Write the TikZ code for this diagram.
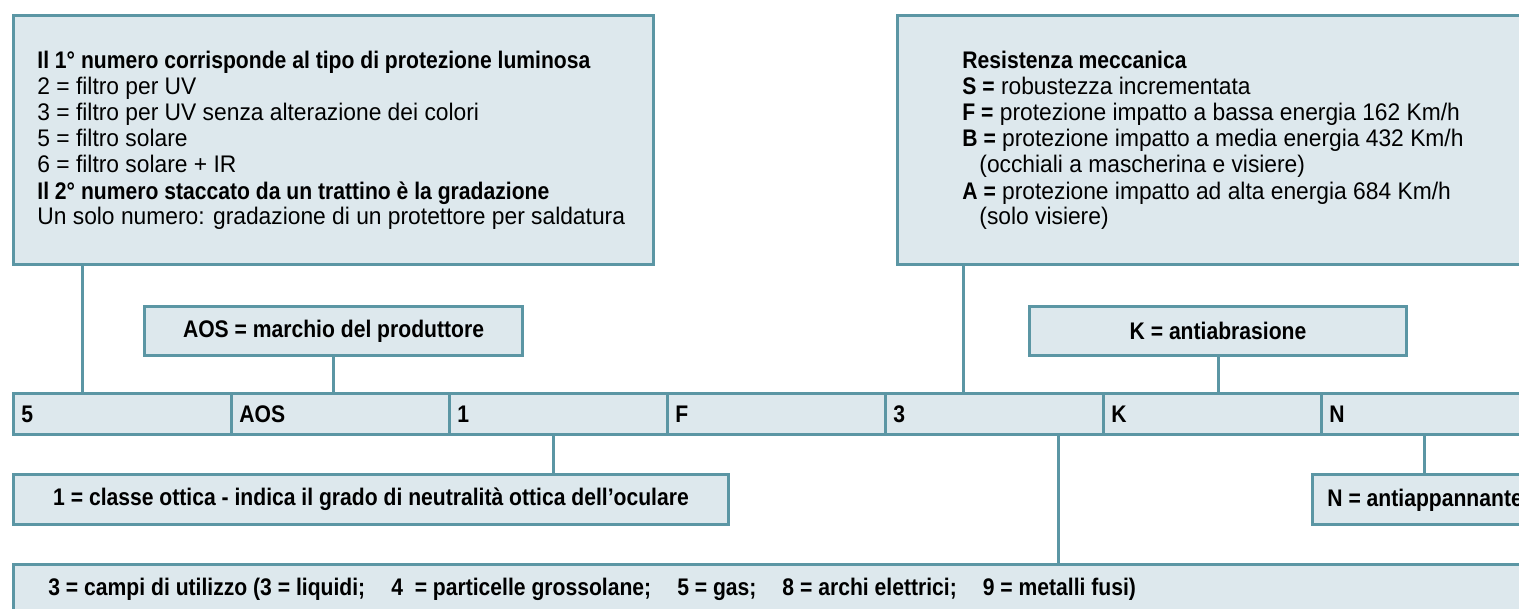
\documentclass[tikz,border=0pt]{standalone}
\usepackage{fontspec}
\setmainfont{Liberation Sans}[UprightFeatures={FakeStretch=0.95},BoldFeatures={FakeStretch=0.88}]
\definecolor{edge}{HTML}{5B96A4}
\definecolor{pale}{HTML}{DDE8ED}
\begin{document}
\begin{tikzpicture}[x=0.5pt,y=-0.5pt,
  box/.style={draw=edge,fill=pale,line width=1.5pt,rectangle,inner sep=0,anchor=north west},
  conn/.style={draw=edge,line width=1.5pt},
  txt/.style={inner sep=0,anchor=base west,font=\fontsize{12}{13}\selectfont},
  btxt/.style={txt,font=\bfseries\fontsize{12}{13}\selectfont},
  lbl/.style={inner sep=0,font=\bfseries\fontsize{12}{13}\selectfont}]
\useasboundingbox (0,0) rectangle (1519,609);
% big boxes
\node[box,minimum width=320pt,minimum height=124.5pt] (A) at (12,14) {};
\node[box,minimum width=320pt,minimum height=124.5pt] (B) at (896,14) {};
\node[btxt] (a1) at (37,69) {Il 1° numero corrisponde al tipo di protezione luminosa};
\node[txt] (a2) at (37,95) {2 = filtro per UV};
\node[txt] (a3) at (37,121) {3 = filtro per UV senza alterazione dei colori};
\node[txt] (a4) at (37,147) {5 = filtro solare};
\node[txt] (a5) at (37,173) {6 = filtro solare + IR};
\node[btxt] (a6) at (37,199) {Il 2° numero staccato da un trattino è la gradazione};
\node[txt] (a7) at (37,225) {Un solo numero: gradazione di un protettore per saldatura};
\node[btxt] (b1) at (962,69) {Resistenza meccanica};
\node[txt] (b2) at (962,95) {\textbf{S =} robustezza incrementata};
\node[txt] (b3) at (962,121) {\textbf{F =} protezione impatto a bassa energia 162 Km/h};
\node[txt] (b4) at (962,147) {\textbf{B =} protezione impatto a media energia 432 Km/h};
\node[txt] (b5) at (979,173) {(occhiali a mascherina e visiere)};
\node[txt] (b6) at (962,199) {\textbf{A =} protezione impatto ad alta energia 684 Km/h};
\node[txt] (b7) at (979,225) {(solo visiere)};
% small top boxes
\node[box,minimum width=189pt,minimum height=24.5pt] (AOS) at (143,305) {};
\node[lbl] (tAOS) at (AOS.center) {AOS = marchio del produttore};
\node[box,minimum width=188.5pt,minimum height=24.5pt] (K) at (1028,305) {};
\node[lbl] (tK) at (K.center) {K = antiabrasione};
% row of cells
\foreach \lab [count=\i from 0] in {5,AOS,1,F,3,K,N}{
  \node[box,minimum width=109pt,minimum height=20.5pt] (c\i) at (12+218*\i,392) {};
  \node[lbl,anchor=base west] (l\i) at (21+218*\i,422) {\lab};
}
% lower boxes
\node[box,minimum width=357.5pt,minimum height=25pt] (one) at (12,473) {};
\node[lbl] (tone) at (one.center) {1 = classe ottica - indica il grado di neutralità ottica dell’oculare};
\node[box,minimum width=125pt,minimum height=25pt] (Nb) at (1311,473) {};
\node[lbl,anchor=base west] (tN) at (1327,506) {N = antiappannante};
\node[box,minimum width=765pt,minimum height=30pt] (bot) at (12,563) {};
\node[lbl,anchor=base west] (tbot) at (48,595) {3 = campi di utilizzo (3 = liquidi;\hspace{13pt}4\ \ = particelle grossolane;\hspace{13pt}5 = gas;\hspace{13pt}8 = archi elettrici;\hspace{13pt}9 = metalli fusi)};
% connectors
\coordinate (pA) at (82,392);
\coordinate (pB) at (963,392);
\coordinate (p1) at (553,433);
\coordinate (p3) at (1058,433);
\coordinate (pN) at (1424,433);
\draw[conn] (pA) -- (pA |- A.south);
\draw[conn] (pB) -- (pB |- B.south);
\draw[conn] (AOS.south) -- (AOS.south |- c1.north);
\draw[conn] (K.south) -- (K.south |- c5.north);
\draw[conn] (p1) -- (p1 |- one.north);
\draw[conn] (p3) -- (p3 |- bot.north);
\draw[conn] (pN) -- (pN |- Nb.north);
\end{tikzpicture}
\end{document}
